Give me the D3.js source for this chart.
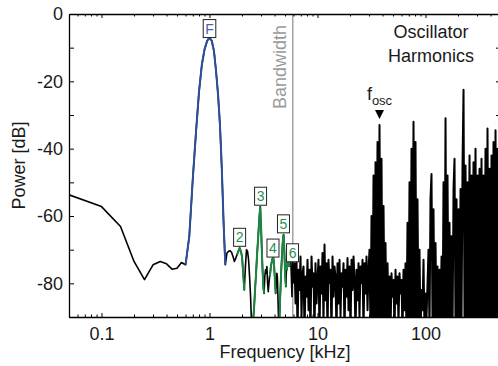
<!DOCTYPE html>
<html>
<head>
<meta charset="utf-8">
<script src="https://cdn.jsdelivr.net/npm/d3@7"></script>
<style>
  body { margin: 0; background: #fff; }
  svg { display: block; font-family: Arial, "Liberation Sans", sans-serif; }
</style>
</head>
<body>
<svg id="chart" width="498" height="366"></svg>
<script>
// spectrum, [kHz, dB] - resolved bins below 6 kHz
const lowBins = [
  [0.05,-53.7],[0.1,-57.2],[0.15,-63.1],[0.2,-73.5],[0.25,-78.9],[0.3,-74.5],[0.35,-73.5],[0.4,-74.2],
  [0.45,-75.8],[0.5,-75.5],[0.55,-73.8],[0.6,-74.5],
  [0.65,-66],[0.7,-49],[0.75,-35],[0.8,-23],[0.85,-15],[0.9,-10.5],[0.95,-8],[1.0,-7],[1.05,-8],
  [1.1,-11],[1.15,-17],[1.2,-24],[1.25,-33],[1.3,-46],[1.35,-62],[1.4,-74.5],
  [1.45,-71],[1.5,-70.5],[1.55,-70.3],[1.6,-70.8],[1.65,-72],[1.7,-73.5],[1.75,-72.5],[1.8,-71.5],
  [1.85,-70.5],[1.9,-69.5],[1.95,-70.5],[2.0,-72],[2.05,-77],[2.1,-82],
  [2.15,-75],[2.2,-70],[2.25,-70.5],[2.3,-73],[2.35,-78],[2.4,-84],[2.45,-92],[2.5,-95],
  [2.55,-90],[2.6,-86],[2.65,-81],[2.7,-77],[2.75,-72],[2.8,-68],[2.85,-64],[2.9,-60],[2.95,-57.2],
  [3.0,-63],[3.05,-70],[3.1,-76],[3.15,-81],[3.2,-83],
  [3.25,-78],[3.3,-76],[3.35,-77],[3.4,-75],[3.45,-80],[3.5,-82.5],[3.55,-80],[3.6,-78],
  [3.65,-77],[3.7,-75],[3.75,-74],[3.8,-73],[3.85,-72.5],[3.9,-72.5],[3.95,-74],[4.0,-77],[4.05,-80],[4.1,-83],
  [4.15,-80],[4.2,-77],[4.25,-78],[4.3,-84],[4.35,-90],[4.4,-95],
  [4.45,-90],[4.5,-85],[4.55,-81],[4.6,-77],[4.65,-74],[4.7,-71],[4.75,-68.5],[4.8,-66.5],[4.85,-65.5],
  [4.9,-68],[4.95,-72],[5.0,-76],[5.05,-79],[5.1,-81],
  [5.15,-76],[5.2,-76],[5.25,-74],[5.3,-73],[5.35,-73.5],[5.4,-74],[5.45,-75],[5.5,-73.5],[5.55,-72.5],
  [5.6,-72.5],[5.65,-73],
  [5.7,-76],[5.75,-80],[5.8,-84],[5.85,-78],[5.9,-73],[5.95,-75],[6.0,-80]
];

// dense part above 6 kHz, peaks and dips
const highBins = [
  [6.12,-74],[6.26,-86],[6.39,-73],[6.53,-95],[6.67,-76],[6.81,-82],[6.96,-72],[7.11,-90],[7.27,-77],
  [7.42,-75],[7.58,-95],[7.75,-78],[7.91,-84],[8.08,-73],[8.26,-88],[8.43,-76],[8.61,-95],[8.8,-72],
  [8.99,-81],[9.18,-77],[9.38,-95],[9.58,-74],[9.79,-86],[10.0,-79],[10.21,-73],[10.43,-95],[10.66,-75],
  [10.89,-83],[11.12,-71],[11.36,-92],[11.61,-68.5],[11.86,-85],[12.11,-74],[12.38,-95],[12.64,-73],
  [12.91,-80],[13.19,-76],[13.47,-95],[13.77,-72],[14.06,-84],[14.37,-75],[14.67,-78],[14.99,-95],
  [15.31,-74],[15.64,-86],[15.98,-73],[16.33,-90],[16.68,-77],[17.04,-81],[17.41,-74],[17.78,-95],
  [18.17,-76],[18.56,-84],[18.96,-72.5],[19.37,-88],[19.78,-75],[20.21,-95],[20.65,-73],[21.09,-82],
  [21.55,-72],[22.01,-79],[22.49,-95],[22.97,-76],[23.47,-85],[23.97,-74],[24.48,-90],[25.01,-75],
  [25.55,-80],[26.1,-73],[26.66,-95],[27.24,-74],[27.83,-83],[28.43,-72],[29.04,-88],
  [29.66,-76],[30.3,-70],[30.95,-95],[31.62,-60],[32.3,-92],[33.0,-48],[33.71,-95],[34.44,-44],
  [35.18,-90],[35.94,-38],[36.72,-95],[37.5,-33],[38.31,-92],[39.14,-43],[39.98,-95],[40.85,-57],
  [41.73,-90],[42.63,-68],[43.55,-95],[44.49,-74],
  [45.45,-90],[46.41,-78],[47.41,-95],[48.43,-77],[49.48,-84],[50.54,-79],[51.63,-95],[52.75,-76],
  [53.89,-86],[55.04,-78],[56.23,-92],[57.44,-77],[58.67,-83],[59.94,-79],[61.23,-95],[62.55,-76],
  [63.9,-88],[65.28,-74],[66.68,-95],[68.12,-62],[69.59,-95],[71.09,-50],[72.62,-92],[74.19,-40],
  [75.79,-95],[77.42,-32],[79.09,-92],[80.79,-38],[82.54,-95],[84.31,-55],[86.13,-92],[87.99,-70],
  [89.89,-95],[91.83,-82],[93.81,-88],[95.83,-73],[97.9,-95],[100.0,-83],[102.2,-90],[104.4,-80],
  [106.6,-70],[108.9,-95],[111.2,-55],
  [113.6,-47.5],[116.1,-92],[118.6,-58],[121.2,-95],[123.8,-68],[126.4,-92],[129.2,-75],[131.9,-95],
  [134.8,-76],[137.7,-90],[140.7,-72],[143.7,-95],[146.8,-50],[150.0,-95],[153.2,-31],[156.5,-92],
  [159.9,-48],[163.3,-95],[166.8,-62],[170.4,-92],[174.1,-66],[177.9,-95],[181.7,-52],[185.6,-43],
  [189.6,-95],[193.7,-55],[197.9,-92],[202.2,-58],[206.5,-95],[210.9,-52],[215.5,-92],[220.1,-45],
  [224.9,-22.5],[229.7,-92],[234.7,-45],[239.7,-95],[244.9,-50],[250.2,-92],[255.6,-42],[261.0,-95],
  [266.7,-48],[272.4,-92],[278.3,-44],[284.3,-95],[290.4,-40],[296.7,-92],[303.1,-48],[309.6,-95],
  [316.3,-46],[323.0,-92],[330.0,-43],[337.1,-95],[344.4,-48],[351.8,-92],[359.4,-40],[367.1,-95],
  [375.0,-34],[383.1,-92],[391.4,-46],[399.8,-95],[408.4,-42],[417.2,-92],[426.2,-38],[435.4,-95],
  [444.8,-34.5],[454.4,-92],[464.2,-40],[474.2,-95],[484.4,-44],[494.8,-92]
];

const fundamentalBand = [0.6, 1.4];
const harmonicBands = [[1.8, 2.1], [2.5, 3.2], [3.6, 4.1], [4.4, 5.1], [5.15, 5.65]];

const peakLabels = [
  { text: 'F', f: 1.0, db: -7, kind: 'fund' },
  { text: '2', f: 1.9, db: -69, kind: 'harm' },
  { text: '3', f: 2.97, db: -56.8, kind: 'harm' },
  { text: '4', f: 3.87, db: -72.2, kind: 'harm' },
  { text: '5', f: 4.84, db: -65, kind: 'harm' },
  { text: '6', f: 5.87, db: -73.6, kind: 'harm' }
];

const bandwidthKHz = 5.9;
const fosc = { f: 37.5, db: -33 };
const xLabelTicks = [0.1, 1, 10, 100];
const yLabelTicks = [0, -20, -40, -60, -80];
const yAllTicks = [0, -10, -20, -30, -40, -50, -60, -70, -80, -90];

let margin = { left: 69, top: 14, right: 501, bottom: 317 };
let blue = '#2f4f9e', green = '#1b8741', textDark = '#1a1a1a';

let svg = d3.select('#chart');

let x = d3.scaleLog().domain([0.05, 500]).range([margin.left, margin.right]);
let y = d3.scaleLinear().domain([-90, 0]).range([margin.bottom, margin.top]);

svg.append('clipPath').attr('id', 'plotclip')
  .append('rect')
  .attr('x', margin.left).attr('y', margin.top)
  .attr('width', margin.right - margin.left).attr('height', margin.bottom - margin.top);

// bandwidth marker (under the trace)
svg.append('line')
  .attr('x1', x(bandwidthKHz)).attr('x2', x(bandwidthKHz))
  .attr('y1', margin.top).attr('y2', margin.bottom)
  .attr('stroke', '#a3a3a3').attr('stroke-width', 1.5);

svg.append('text')
  .attr('transform', `translate(${x(bandwidthKHz) - 7},${67}) rotate(-90)`)
  .attr('text-anchor', 'middle')
  .attr('fill', '#9a9a9a')
  .attr('font-size', 18)
  .text('Bandwidth');

// traces
let line = d3.line().x(d => x(d[0])).y(d => y(d[1]));
let plot = svg.append('g').attr('clip-path', 'url(#plotclip)');

plot.append('path')
  .attr('d', line(lowBins))
  .attr('fill', 'none').attr('stroke', '#000').attr('stroke-width', 1.6)
  .attr('stroke-linejoin', 'round');

// the dense part is drawn a touch heavier so it packs like the original trace
plot.append('path')
  .attr('d', line([lowBins[lowBins.length - 1]].concat(highBins)))
  .attr('fill', 'none').attr('stroke', '#000').attr('stroke-width', 2)
  .attr('stroke-linejoin', 'round');

plot.append('path')
  .attr('d', line(lowBins.filter(d => d[0] >= fundamentalBand[0] && d[0] <= fundamentalBand[1])))
  .attr('fill', 'none').attr('stroke', blue).attr('stroke-width', 2);

harmonicBands.forEach(b => {
  plot.append('path')
    .attr('d', line(lowBins.filter(d => d[0] >= b[0] && d[0] <= b[1])))
    .attr('fill', 'none').attr('stroke', green).attr('stroke-width', 2);
});

// axes, ticks pointing inward
function styleTicks(g, side) {
  g.select('.domain').attr('stroke', '#000').attr('stroke-width', 1.3);
  g.selectAll('.tick line').attr('stroke', '#000').attr('stroke-width', 1);
  if (side === 'top' || side === 'bottom') {
    g.selectAll('.tick line').attr('y2', d => {
      let len = xLabelTicks.includes(d) ? 4 : 2.5;
      return side === 'top' ? len : -len;
    });
  }
}

let xTicks = x.ticks();
let xFmt = d => xLabelTicks.includes(d) ? String(d) : '';

let gx = svg.append('g')
  .attr('transform', `translate(0,${margin.bottom})`)
  .call(d3.axisBottom(x).tickValues(xTicks).tickFormat(xFmt).tickSize(-4).tickSizeOuter(0).tickPadding(10));
styleTicks(gx, 'bottom');

let gxt = svg.append('g')
  .attr('transform', `translate(0,${margin.top})`)
  .call(d3.axisTop(x).tickValues(xTicks).tickFormat('').tickSize(-4).tickSizeOuter(0));
styleTicks(gxt, 'top');

let gy = svg.append('g')
  .attr('transform', `translate(${margin.left},0)`)
  .call(d3.axisLeft(y).tickValues(yAllTicks)
    .tickFormat(d => yLabelTicks.includes(d) ? String(d) : '')
    .tickSize(-5).tickSizeOuter(0).tickPadding(6));
styleTicks(gy, 'left');

let gyr = svg.append('g')
  .attr('transform', `translate(${margin.right},0)`)
  .call(d3.axisRight(y).tickValues(yAllTicks).tickFormat('').tickSize(-5).tickSizeOuter(0));
styleTicks(gyr, 'right');

svg.selectAll('.tick text')
  .attr('font-size', 18).attr('font-family', 'Arial, "Liberation Sans", sans-serif')
  .attr('fill', textDark);

// axis titles
svg.append('text')
  .attr('x', (margin.left + margin.right) / 2).attr('y', 358)
  .attr('text-anchor', 'middle').attr('font-size', 18).attr('fill', textDark)
  .text('Frequency [kHz]');

svg.append('text')
  .attr('transform', `translate(25,${(margin.top + margin.bottom) / 2}) rotate(-90)`)
  .attr('text-anchor', 'middle').attr('font-size', 18).attr('fill', textDark)
  .text('Power [dB]');

// peak tags
peakLabels.forEach(p => {
  let cx = x(p.f), bottom = y(p.db);
  let g = svg.append('g');
  let r = g.append('rect');
  let t = g.append('text')
    .attr('x', cx).attr('y', bottom - 4)
    .attr('text-anchor', 'middle').attr('font-size', 14)
    .attr('fill', p.kind === 'fund' ? '#3f63b8' : '#1f9150')
    .text(p.text);
  let bb = t.node().getBBox();
  let w = bb.width + 4, h = 18;
  r.attr('x', cx - w / 2).attr('y', bottom - h).attr('width', w).attr('height', h)
    .attr('fill', '#fff').attr('stroke', '#222').attr('stroke-width', 1);
});

// oscillator annotation
let fx = x(fosc.f);
let ft = svg.append('text')
  .attr('x', fx).attr('y', 100)
  .attr('text-anchor', 'middle').attr('fill', textDark);
ft.append('tspan').attr('font-size', 18).text('f');
ft.append('tspan').attr('font-size', 13).attr('dy', 5).text('osc');

svg.append('path')
  .attr('d', `M${fx - 4.5},${110} L${fx + 4.5},${110} L${fx},${119} Z`)
  .attr('fill', '#000');

let ht = svg.append('text').attr('text-anchor', 'middle').attr('font-size', 18).attr('fill', textDark);
ht.append('tspan').attr('x', 431).attr('y', 38).text('Oscillator');
ht.append('tspan').attr('x', 431).attr('y', 62).text('Harmonics');
</script>
</body>
</html>
